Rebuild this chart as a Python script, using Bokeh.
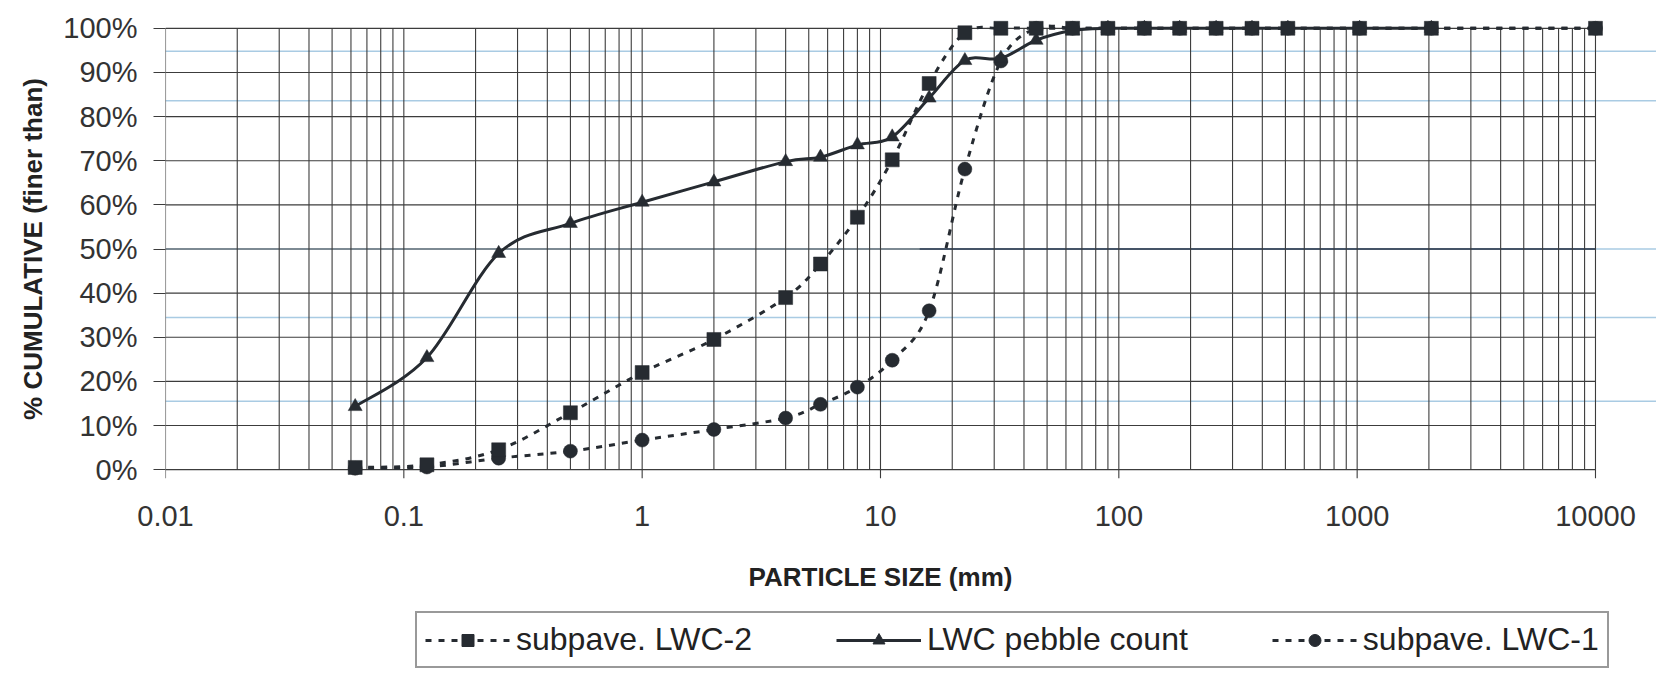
import math
from bokeh.plotting import figure
from bokeh.layouts import column
from bokeh.models import (FixedTicker, CustomJSTickFormatter, Span, Legend, LegendItem,
                          Range1d, ColumnDataSource, Label)
from bokeh.embed import file_html
from bokeh.resources import INLINE

# ---------------- data ----------------
sizes_sub2 = [0.0625, 0.125, 0.25, 0.5, 1, 2, 4, 5.6, 8, 11.2, 16, 22.6, 32, 45, 64, 90,
              128, 180, 256, 362, 512, 1024, 2048, 10000]
pct_sub2 = [0.5, 1.1, 4.5, 12.9, 22.0, 29.5, 39.0, 46.6, 57.2, 70.2, 87.5, 99.0, 100, 100,
            100, 100, 100, 100, 100, 100, 100, 100, 100, 100]

sizes_peb = [0.0625, 0.125, 0.25, 0.5, 1, 2, 4, 5.6, 8, 11.2, 16, 22.6, 32, 45, 64, 90,
             128, 180, 256, 362, 512, 1024, 2048]
pct_peb = [14.3, 25.4, 49.0, 55.8, 60.6, 65.2, 69.8, 70.8, 73.6, 75.4, 84.2, 92.7, 93.2, 97.3,
           99.5, 100, 100, 100, 100, 100, 100, 100, 100]

sizes_sub1 = [0.0625, 0.125, 0.25, 0.5, 1, 2, 4, 5.6, 8, 11.2, 16, 22.6, 32, 45, 64, 90,
              128, 180, 256, 362, 512, 1024, 2048, 10000]
pct_sub1 = [0.3, 0.6, 2.6, 4.2, 6.7, 9.1, 11.7, 14.8, 18.7, 24.8, 36.0, 68.1, 92.6, 100,
            100, 100, 100, 100, 100, 100, 100, 100, 100, 100]

series_labels = ["subpave. LWC-2", "LWC pebble count", "subpave. LWC-1"]
x_title = "PARTICLE SIZE (mm)"
y_title = "% CUMULATIVE (finer than)"

x_major_ticks = [0.01, 0.1, 1, 10, 100, 1000, 10000]
x_minor_ticks = [m * d for d in [0.01, 0.1, 1, 10, 100, 1000] for m in range(2, 10)]
y_ticks = [0, 10, 20, 30, 40, 50, 60, 70, 80, 90, 100]
reference_levels = [15.5, 34.5, 50, 83.6, 94.8]
d50_start = 14.6

# ---------------- style ----------------
INK = "#262b31"
GRID = "#3c3c3c"
FONT = "Liberation Sans"
W = 1656
X_RANGE = (0.01, 18030)

p = figure(width=W, height=540, x_axis_type="log",
           x_range=Range1d(*X_RANGE), y_range=Range1d(-2, 102),
           output_backend="svg", toolbar_location=None,
           min_border_left=165, min_border_right=0, min_border_top=19,
           min_border_bottom=62)
p.outline_line_color = None
p.xgrid.visible = False
p.ygrid.visible = False
p.background_fill_color = "white"
p.border_fill_color = "white"

# light-blue reference levels
for lv in reference_levels:
    p.add_layout(Span(location=lv, dimension="width", line_color="#a9cbe3",
                      line_width=1.5, level="underlay"))
p.segment(x0=[d50_start], y0=[50], x1=[x_major_ticks[-1]], y1=[50],
          line_color="#2a4a74", line_width=1.5)

# grid lines
p.segment(x0=[x_major_ticks[0]] * len(y_ticks), y0=y_ticks,
          x1=[x_major_ticks[-1]] * len(y_ticks), y1=y_ticks,
          line_color=GRID, line_width=1.1)
p.segment(x0=x_minor_ticks, y0=[y_ticks[0]] * len(x_minor_ticks),
          x1=x_minor_ticks, y1=[y_ticks[-1]] * len(x_minor_ticks),
          line_color=GRID, line_width=1.1)
p.segment(x0=x_major_ticks, y0=[-2] * len(x_major_ticks),
          x1=x_major_ticks, y1=[y_ticks[-1]] * len(x_major_ticks),
          line_color=GRID, line_width=1.1)


def smooth_source(xs, ys):
    """Excel-like smoothed line: cubic Bezier pieces (Catmull-Rom) in log-x space."""
    u = [math.log10(v) for v in xs]
    n = len(u)
    d = dict(x0=[], y0=[], x1=[], y1=[], cx0=[], cy0=[], cx1=[], cy1=[])
    for i in range(n - 1):
        a = max(i - 1, 0)
        b = min(i + 2, n - 1)
        c1u = u[i] + (u[i + 1] - u[a]) / 6.0
        c1y = ys[i] + (ys[i + 1] - ys[a]) / 6.0
        c2u = u[i + 1] - (u[b] - u[i]) / 6.0
        c2y = ys[i + 1] - (ys[b] - ys[i]) / 6.0
        d["x0"].append(xs[i]); d["y0"].append(ys[i])
        d["x1"].append(xs[i + 1]); d["y1"].append(ys[i + 1])
        d["cx0"].append(10 ** c1u); d["cy0"].append(c1y)
        d["cx1"].append(10 ** c2u); d["cy1"].append(c2y)
    return ColumnDataSource(d)


DOT = "6 7"
p.bezier(x0="x0", y0="y0", x1="x1", y1="y1", cx0="cx0", cy0="cy0", cx1="cx1", cy1="cy1",
         source=smooth_source(sizes_sub1, pct_sub1), line_color=INK, line_width=3,
         line_dash=DOT)
p.bezier(x0="x0", y0="y0", x1="x1", y1="y1", cx0="cx0", cy0="cy0", cx1="cx1", cy1="cy1",
         source=smooth_source(sizes_sub2, pct_sub2), line_color=INK, line_width=3,
         line_dash=DOT)
p.bezier(x0="x0", y0="y0", x1="x1", y1="y1", cx0="cx0", cy0="cy0", cx1="cx1", cy1="cy1",
         source=smooth_source(sizes_peb, pct_peb), line_color=INK, line_width=3)

p.scatter(sizes_sub1, pct_sub1, marker="circle", size=14, fill_color=INK,
          line_color=INK, line_width=0.5)
p.scatter(sizes_peb, pct_peb, marker="triangle", size=14, fill_color=INK,
          line_color=INK, line_width=0.5)
p.scatter(sizes_sub2, pct_sub2, marker="square", size=14, fill_color=INK,
          line_color=INK, line_width=0.5)

# axes
xa = p.xaxis[0]
xa.ticker = FixedTicker(ticks=x_major_ticks, minor_ticks=[])
xa.formatter = CustomJSTickFormatter(code="return tick.toString();")
xa.axis_line_color = None
xa.major_tick_out = 0
xa.major_tick_in = 0
xa.minor_tick_out = 0
xa.minor_tick_in = 0
xa.major_label_standoff = 27
xa.major_label_text_font = FONT
xa.major_label_text_font_size = "29px"
xa.major_label_text_color = "#333333"

ya = p.yaxis[0]
ya.ticker = FixedTicker(ticks=y_ticks, minor_ticks=[])
ya.formatter = CustomJSTickFormatter(code="return tick + '%';")
ya.axis_line_color = None
ya.major_tick_out = 12
ya.major_tick_in = 0
ya.major_tick_line_color = GRID
ya.major_tick_line_width = 1.1
ya.minor_tick_out = 0
ya.minor_tick_in = 0
ya.major_label_standoff = 16
ya.major_label_text_font = FONT
ya.major_label_text_font_size = "29px"
ya.major_label_text_color = "#333333"
ya.axis_label = y_title
ya.axis_label_text_font = FONT
ya.axis_label_text_font_style = "bold"
ya.axis_label_text_font_size = "26px"
ya.axis_label_text_color = "#222222"
ya.axis_label_standoff = 12

# ---------------- strip below: x title + legend ----------------
LG_H = 132
lg = figure(width=W, height=LG_H, x_axis_type="log", x_range=Range1d(*X_RANGE),
            y_range=Range1d(0, LG_H), output_backend="svg", toolbar_location=None,
            min_border=0, x_axis_location=None, y_axis_location=None)
lg.outline_line_color = None
lg.grid.visible = False
lg.background_fill_color = "white"
lg.border_fill_color = "white"

# x-axis title centred under the 0.01..10000 span (same log scale as the chart)
lg.add_layout(Label(x=math.sqrt(x_major_ticks[0] * x_major_ticks[-1]), y=LG_H - 36,
                    text=x_title, text_align="center", text_baseline="middle",
                    text_font=FONT, text_font_size="26px", text_font_style="bold",
                    text_color="#222222"))

# off-screen stand-ins, only used to draw the legend samples
off_x = [1e-6, 2e-6]
off_y = [-10, -10]
l_sub2 = lg.line(x=off_x, y=off_y, line_color=INK, line_width=3, line_dash=DOT)
s_sub2 = lg.scatter(x=off_x, y=off_y, marker="square", size=14, fill_color=INK, line_color=INK)
l_peb = lg.line(x=off_x, y=off_y, line_color=INK, line_width=3)
s_peb = lg.scatter(x=off_x, y=off_y, marker="triangle", size=14, fill_color=INK, line_color=INK)
l_sub1 = lg.line(x=off_x, y=off_y, line_color=INK, line_width=3, line_dash=DOT)
s_sub1 = lg.scatter(x=off_x, y=off_y, marker="circle", size=14, fill_color=INK, line_color=INK)

legend = Legend(items=[
    LegendItem(label=series_labels[0], renderers=[l_sub2, s_sub2]),
    LegendItem(label=series_labels[1], renderers=[l_peb, s_peb]),
    LegendItem(label=series_labels[2], renderers=[l_sub1, s_sub1]),
], orientation="horizontal", location=(250, 4), margin=0, padding=8,
    glyph_width=85, glyph_height=30, label_standoff=6, spacing=84,
    label_text_font=FONT, label_text_font_size="32px", label_text_color="#222222",
    border_line_color="#333333", border_line_width=2,
    background_fill_color="white", background_fill_alpha=1.0)
lg.add_layout(legend)

open("out.html", "w").write(file_html(column(p, lg), INLINE))
